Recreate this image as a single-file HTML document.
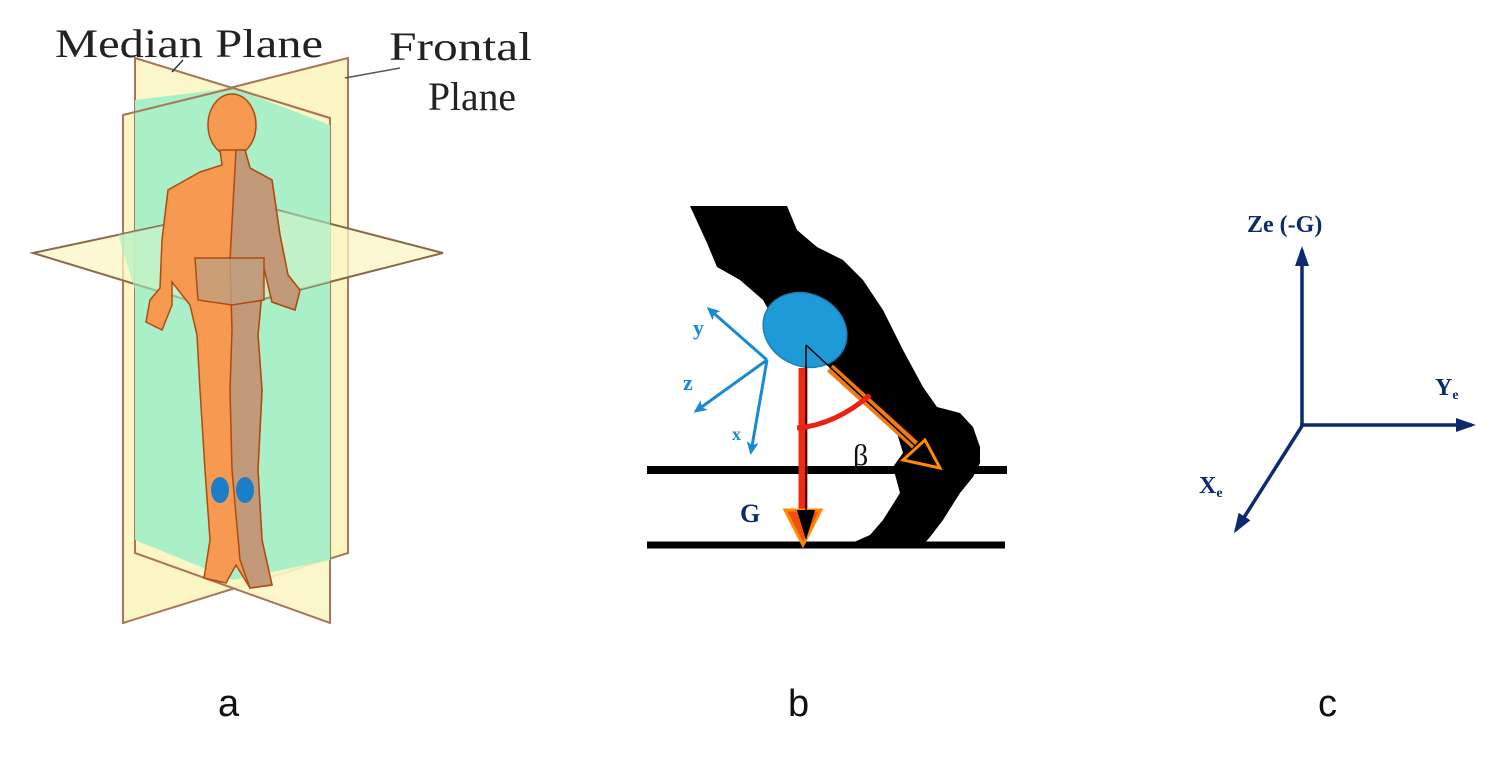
<!DOCTYPE html>
<html><head><meta charset="utf-8"><style>
html,body{margin:0;padding:0;background:#fff;}
svg{display:block;}
</style></head><body>
<svg width="1501" height="757" viewBox="0 0 1501 757" xmlns="http://www.w3.org/2000/svg">
<defs>
<marker id="nb" markerWidth="22" markerHeight="20" refX="16" refY="10" orient="auto" markerUnits="userSpaceOnUse"><path d="M0,3 L20,10 L0,17 Z" fill="#0d2a6e"/></marker>
<marker id="bl" markerWidth="14" markerHeight="14" refX="10" refY="7" orient="auto" markerUnits="userSpaceOnUse"><path d="M0,1 L13,7 L0,13 L3,7 Z" fill="#1a8ad0"/></marker>
</defs>

<!-- Panel a -->
<polygon points="348,58 123,115 123,623 348,553" fill="#fbf6c4" stroke="#a8765a" stroke-width="2"/>
<polygon points="135,58 330,118 330,623 135,553" fill="#fbf6c4" stroke="#a8765a" stroke-width="2" fill-opacity="0.9"/>
<polygon points="135,100 233,88 330,125 330,560 233,580 135,540" fill="#a9efc8"/>
<line x1="123" y1="115" x2="233" y2="88" stroke="#a8765a" stroke-width="2"/>
<line x1="233" y1="88" x2="330" y2="118" stroke="#a8765a" stroke-width="2"/>
<polygon points="33,253 258,205 443,253 220,310" fill="#fbf6c4" fill-opacity="0.75" stroke="#8a6a4a" stroke-width="2"/>
<polygon points="118,235 258,205 330,222 330,282 220,310 135,290" fill="#a9efc8" fill-opacity="0.6"/>
<g stroke="#b04a10" stroke-width="1.5">
<ellipse cx="232" cy="125" rx="24" ry="31" fill="#f59a50"/>
<path d="M220,150 L245,150 L250,168 L272,180 L280,235 L288,275 L300,290 L295,310 L272,302 L264,268 L262,292 L258,335 L262,390 L258,470 L262,540 L272,585 L250,588 L236,565 L226,583 L204,578 L210,540 L205,470 L200,390 L197,335 L190,305 L172,282 L172,305 L162,330 L146,322 L150,300 L160,288 L162,240 L168,190 L200,172 L222,165 Z" fill="#f59a50"/>
<path d="M236,150 L245,150 L250,168 L272,180 L280,235 L288,275 L300,290 L295,310 L272,302 L264,268 L262,292 L258,335 L262,390 L258,470 L262,540 L272,585 L250,588 L240,560 L232,470 L230,390 L232,330 L230,260 Z" fill="#b89a80" fill-opacity="0.85"/>
<path d="M195,258 L264,258 L264,300 L232,305 L198,300 Z" fill="#c0a080" fill-opacity="0.8"/>
</g>
<ellipse cx="220" cy="490" rx="9" ry="13" fill="#1a7ec8"/>
<ellipse cx="245" cy="490" rx="9" ry="13" fill="#1a7ec8"/>
<line x1="183" y1="60" x2="172" y2="72" stroke="#333" stroke-width="1.5"/>
<line x1="345" y1="78" x2="400" y2="68" stroke="#555" stroke-width="1.5"/>
<text x="55" y="57" font-family="Liberation Serif, serif" font-size="40" fill="#222" textLength="268" lengthAdjust="spacingAndGlyphs">Median Plane</text>
<text x="389" y="60" font-family="Liberation Serif, serif" font-size="40" fill="#222" textLength="143" lengthAdjust="spacingAndGlyphs">Frontal</text>
<text x="428" y="110" font-family="Liberation Serif, serif" font-size="40" fill="#222" textLength="88" lengthAdjust="spacingAndGlyphs">Plane</text>

<!-- Panel b -->
<path d="M690,206 L787,206 L797,230 L817,247 L843,260 L863,280 L883,310 L903,350 L923,387 L937,407 L960,413 L973,427 L980,447 L980,463 L973,477 L960,493 L943,520 L930,537 L923,545 L845,546 L870,535 L883,520 L900,493 L893,467 L903,453 L897,433 L863,393 L830,367 L780,330 L763,300 L740,280 L717,267 L707,243 Z" fill="#000"/>
<line x1="647" y1="470" x2="1007" y2="470" stroke="#000" stroke-width="8"/>
<line x1="647" y1="545" x2="1005" y2="545" stroke="#000" stroke-width="7"/>
<ellipse cx="805" cy="330" rx="43" ry="36" transform="rotate(25 805 330)" fill="#1e9ad6" stroke="#1780b8" stroke-width="1.5"/>
<line x1="803" y1="368" x2="803" y2="515" stroke="#ee2a10" stroke-width="9"/>
<polygon points="785,510 821,510 803,545" fill="#f25010" stroke="#ff8a00" stroke-width="3"/>
<line x1="806" y1="345" x2="806" y2="535" stroke="#000" stroke-width="1.5"/>
<polygon points="797,510 815,510 806,540" fill="#000"/>
<line x1="830" y1="368" x2="915" y2="445" stroke="#f07a10" stroke-width="9"/>
<line x1="806" y1="345" x2="925" y2="455" stroke="#000" stroke-width="1.5"/>
<polygon points="940,468 903,460 925,440" fill="#000" stroke="#ff8a00" stroke-width="3"/>
<path d="M797,428 Q835,425 870,395" fill="none" stroke="#ee2010" stroke-width="5"/>
<text x="853" y="465" font-family="Liberation Serif, serif" font-size="30" fill="#111">β</text>
<text x="740" y="522" font-family="Liberation Serif, serif" font-size="26" font-weight="bold" fill="#0d2a6e">G</text>
<g stroke="#1a8ad0" stroke-width="3" fill="none">
<line x1="767" y1="360" x2="709" y2="309" marker-end="url(#bl)"/>
<line x1="767" y1="360" x2="696" y2="411" marker-end="url(#bl)"/>
<line x1="767" y1="360" x2="751" y2="452" marker-end="url(#bl)"/>
</g>
<text x="693" y="335" font-family="Liberation Serif, serif" font-size="22" font-weight="bold" fill="#1a8ad0">y</text>
<text x="683" y="390" font-family="Liberation Serif, serif" font-size="22" font-weight="bold" fill="#1a8ad0">z</text>
<text x="732" y="440" font-family="Liberation Serif, serif" font-size="18" font-weight="bold" fill="#1a8ad0">x</text>

<!-- Panel c -->
<g stroke="#0d2a6e" stroke-width="3.5" fill="none">
<line x1="1302" y1="427" x2="1302" y2="250" marker-end="url(#nb)"/>
<line x1="1300" y1="425" x2="1472" y2="425" marker-end="url(#nb)"/>
<line x1="1302" y1="426" x2="1236" y2="530" marker-end="url(#nb)"/>
</g>
<text x="1247" y="232" font-family="Liberation Serif, serif" font-size="24" font-weight="bold" fill="#0d2a6e">Ze (-G)</text>
<text x="1435" y="395" font-family="Liberation Serif, serif" font-size="24" font-weight="bold" fill="#0d2a6e">Y<tspan font-size="14" dy="4">e</tspan></text>
<text x="1199" y="493" font-family="Liberation Serif, serif" font-size="24" font-weight="bold" fill="#0d2a6e">X<tspan font-size="14" dy="4">e</tspan></text>

<text x="218" y="716" font-family="Liberation Sans, sans-serif" font-size="38" fill="#111">a</text>
<text x="788" y="716" font-family="Liberation Sans, sans-serif" font-size="38" fill="#111">b</text>
<text x="1318" y="716" font-family="Liberation Sans, sans-serif" font-size="38" fill="#111">c</text>
</svg>
</body></html>
